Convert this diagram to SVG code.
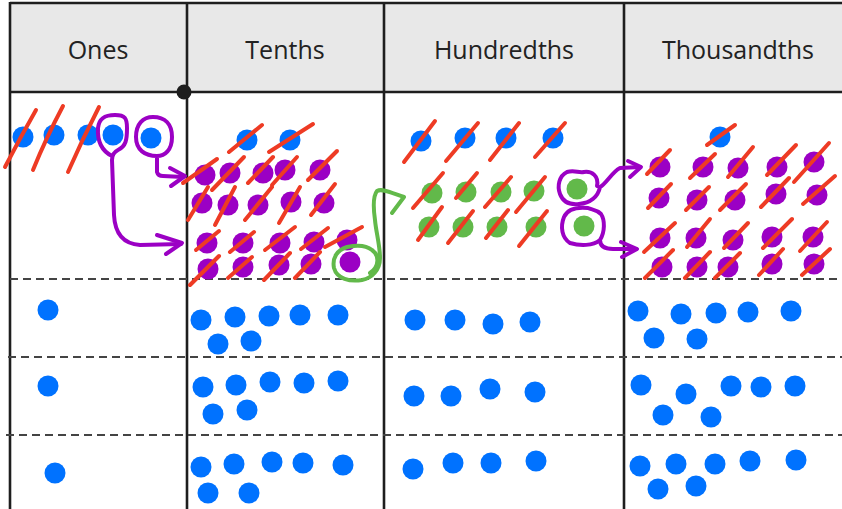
<svg xmlns="http://www.w3.org/2000/svg" width="842" height="509" viewBox="0 0 842 509">
<style>
.hd{fill:#E8E8E8}
.gl{stroke:#1E1E1E;stroke-width:2.6;fill:none}
.dl{stroke:#444;stroke-width:2;stroke-dasharray:8 5;fill:none}
.t{font-family:"Open Sans","Noto Sans",sans-serif;font-size:25px;fill:#222;text-anchor:middle}
.b{fill:#0072FF}
.p{fill:#9B00C4}
.g{fill:#62B94A}
.x{stroke:#EE3B24;stroke-width:4;stroke-linecap:round;fill:none}
.pc{stroke:#9B00C4;stroke-width:4;stroke-linecap:round;stroke-linejoin:round;fill:none}
.gc{stroke:#62B94A;stroke-width:4;stroke-linecap:round;stroke-linejoin:round;fill:none}
</style>
<rect width="842" height="509" fill="#fff"/>
<g id="table">
<rect class="hd" x="10" y="3" width="832" height="89"/>
<line class="gl" x1="10" y1="3" x2="842" y2="3"/>
<line class="gl" x1="10" y1="92" x2="842" y2="92"/>
<line class="gl" x1="10" y1="2" x2="10" y2="509"/>
<line class="gl" x1="187" y1="2" x2="187" y2="509"/>
<line class="gl" x1="384" y1="2" x2="384" y2="509"/>
<line class="gl" x1="624" y1="2" x2="624" y2="509"/>
<line class="dl" x1="10" y1="279" x2="842" y2="279"/>
<line class="dl" x1="8" y1="357" x2="842" y2="357"/>
<line class="dl" x1="6" y1="435" x2="842" y2="435"/>
<circle cx="184" cy="92" r="7.5" fill="#1E1E1E"/>
<text class="t" x="98" y="59">Ones</text>
<text class="t" x="285" y="59">Tenths</text>
<text class="t" x="504" y="59">Hundredths</text>
<text class="t" x="738" y="59">Thousandths</text>
</g>
<g id="ones-top">
<circle class="b" cx="23" cy="137" r="10.5"/>
<circle class="b" cx="54" cy="135" r="10.5"/>
<circle class="b" cx="88" cy="135" r="10.5"/>
<circle class="b" cx="113" cy="135" r="10.5"/>
<circle class="b" cx="151" cy="138" r="10.5"/>
<path class="x" d="M5,167 Q20,138 36,110"/>
<path class="x" d="M33,170 Q46,138 63,106"/>
<path class="x" d="M68,172 Q82,140 99,107"/>
</g>
<g id="tenths-top">
<circle class="b" cx="247" cy="140" r="10.5"/>
<circle class="b" cx="290" cy="140" r="10.5"/>
<line class="x" x1="229" y1="152" x2="262" y2="125"/>
<line class="x" x1="269" y1="152" x2="313" y2="124"/>
<circle class="p" cx="205" cy="175" r="10.5"/>
<circle class="p" cx="230" cy="173" r="10.5"/>
<circle class="p" cx="263" cy="173" r="10.5"/>
<circle class="p" cx="285" cy="170" r="10.5"/>
<circle class="p" cx="320" cy="170" r="10.5"/>
<circle class="p" cx="202" cy="203" r="10.5"/>
<circle class="p" cx="228" cy="205" r="10.5"/>
<circle class="p" cx="258" cy="205" r="10.5"/>
<circle class="p" cx="291" cy="202" r="10.5"/>
<circle class="p" cx="324" cy="203" r="10.5"/>
<circle class="p" cx="207" cy="243" r="10.5"/>
<circle class="p" cx="243" cy="243" r="10.5"/>
<circle class="p" cx="280" cy="243" r="10.5"/>
<circle class="p" cx="314" cy="242" r="10.5"/>
<circle class="p" cx="347" cy="240" r="10.5"/>
<circle class="p" cx="208" cy="269" r="10.5"/>
<circle class="p" cx="243" cy="267" r="10.5"/>
<circle class="p" cx="279" cy="265" r="10.5"/>
<circle class="p" cx="311" cy="264" r="10.5"/>
<circle class="p" cx="350" cy="262" r="10.5"/>
<line class="x" x1="183" y1="183" x2="217" y2="159"/>
<line class="x" x1="212" y1="190" x2="244" y2="157"/>
<line class="x" x1="248" y1="183" x2="273" y2="157"/>
<line class="x" x1="272" y1="185" x2="297" y2="157"/>
<line class="x" x1="308" y1="180" x2="337" y2="151"/>
<line class="x" x1="188" y1="220" x2="208" y2="187"/>
<line class="x" x1="215" y1="225" x2="235" y2="187"/>
<line class="x" x1="245" y1="220" x2="272" y2="187"/>
<line class="x" x1="279" y1="223" x2="300" y2="187"/>
<line class="x" x1="311" y1="215" x2="335" y2="184"/>
<line class="x" x1="196" y1="250" x2="219" y2="231"/>
<line class="x" x1="230" y1="252" x2="254" y2="232"/>
<line class="x" x1="265" y1="250" x2="295" y2="227"/>
<line class="x" x1="301" y1="249" x2="328" y2="228"/>
<line class="x" x1="325" y1="247" x2="362" y2="227"/>
<line class="x" x1="190" y1="285" x2="219" y2="256"/>
<line class="x" x1="228" y1="278" x2="252" y2="257"/>
<line class="x" x1="264" y1="280" x2="290" y2="253"/>
<line class="x" x1="295" y1="278" x2="320" y2="252"/>
</g>
<g id="hundredths-top">
<circle class="b" cx="421" cy="141" r="10.5"/>
<circle class="b" cx="465" cy="138" r="10.5"/>
<circle class="b" cx="506" cy="138" r="10.5"/>
<circle class="b" cx="553" cy="138" r="10.5"/>
<line class="x" x1="404" y1="162" x2="435" y2="121"/>
<line class="x" x1="446" y1="161" x2="478" y2="123"/>
<line class="x" x1="490" y1="160" x2="519" y2="123"/>
<line class="x" x1="535" y1="157" x2="565" y2="123"/>
<circle class="g" cx="432" cy="193" r="10.5"/>
<circle class="g" cx="466" cy="192" r="10.5"/>
<circle class="g" cx="501" cy="192" r="10.5"/>
<circle class="g" cx="534" cy="191" r="10.5"/>
<circle class="g" cx="577" cy="189" r="10.5"/>
<circle class="g" cx="429" cy="227" r="10.5"/>
<circle class="g" cx="463" cy="227" r="10.5"/>
<circle class="g" cx="497" cy="227" r="10.5"/>
<circle class="g" cx="536" cy="227" r="10.5"/>
<circle class="g" cx="584" cy="226" r="10.5"/>
<line class="x" x1="413" y1="208" x2="443" y2="173"/>
<line class="x" x1="456" y1="198" x2="477" y2="173"/>
<line class="x" x1="485" y1="207" x2="511" y2="177"/>
<line class="x" x1="516" y1="212" x2="545" y2="177"/>
<line class="x" x1="418" y1="240" x2="442" y2="207"/>
<line class="x" x1="448" y1="243" x2="473" y2="211"/>
<line class="x" x1="486" y1="238" x2="508" y2="210"/>
<line class="x" x1="519" y1="246" x2="547" y2="211"/>
</g>
<g id="thousandths-top">
<circle class="b" cx="720" cy="137" r="10.5"/>
<line class="x" x1="707" y1="145" x2="735" y2="125"/>
<circle class="p" cx="660" cy="167" r="10.5"/>
<circle class="p" cx="703" cy="167" r="10.5"/>
<circle class="p" cx="738" cy="168" r="10.5"/>
<circle class="p" cx="777" cy="167" r="10.5"/>
<circle class="p" cx="814" cy="162" r="10.5"/>
<circle class="p" cx="659" cy="198" r="10.5"/>
<circle class="p" cx="697" cy="200" r="10.5"/>
<circle class="p" cx="735" cy="200" r="10.5"/>
<circle class="p" cx="776" cy="194" r="10.5"/>
<circle class="p" cx="817" cy="195" r="10.5"/>
<circle class="p" cx="660" cy="238" r="10.5"/>
<circle class="p" cx="696" cy="238" r="10.5"/>
<circle class="p" cx="733" cy="240" r="10.5"/>
<circle class="p" cx="772" cy="237" r="10.5"/>
<circle class="p" cx="813" cy="237" r="10.5"/>
<circle class="p" cx="662" cy="267" r="10.5"/>
<circle class="p" cx="697" cy="267" r="10.5"/>
<circle class="p" cx="728" cy="267" r="10.5"/>
<circle class="p" cx="772" cy="264" r="10.5"/>
<circle class="p" cx="814" cy="264" r="10.5"/>
<line class="x" x1="647" y1="174" x2="670" y2="150"/>
<line class="x" x1="690" y1="178" x2="715" y2="154"/>
<line class="x" x1="728" y1="177" x2="753" y2="147"/>
<line class="x" x1="767" y1="175" x2="796" y2="145"/>
<line class="x" x1="794" y1="182" x2="829" y2="143"/>
<line class="x" x1="648" y1="208" x2="671" y2="184"/>
<line class="x" x1="686" y1="210" x2="709" y2="187"/>
<line class="x" x1="720" y1="210" x2="746" y2="184"/>
<line class="x" x1="761" y1="207" x2="789" y2="178"/>
<line class="x" x1="803" y1="204" x2="835" y2="176"/>
<line class="x" x1="644" y1="252" x2="675" y2="223"/>
<line class="x" x1="687" y1="247" x2="710" y2="219"/>
<line class="x" x1="724" y1="248" x2="748" y2="223"/>
<line class="x" x1="763" y1="248" x2="792" y2="219"/>
<line class="x" x1="800" y1="251" x2="827" y2="222"/>
<line class="x" x1="645" y1="278" x2="673" y2="250"/>
<line class="x" x1="685" y1="278" x2="710" y2="252"/>
<line class="x" x1="715" y1="278" x2="740" y2="253"/>
<line class="x" x1="759" y1="275" x2="783" y2="249"/>
<line class="x" x1="802" y1="275" x2="830" y2="249"/>
</g>
<g id="row2">
<circle class="b" cx="48" cy="310" r="10.5"/>
<circle class="b" cx="201" cy="320" r="10.5"/>
<circle class="b" cx="235" cy="317" r="10.5"/>
<circle class="b" cx="269" cy="316" r="10.5"/>
<circle class="b" cx="300" cy="315" r="10.5"/>
<circle class="b" cx="338" cy="315" r="10.5"/>
<circle class="b" cx="218" cy="344" r="10.5"/>
<circle class="b" cx="251" cy="341" r="10.5"/>
<circle class="b" cx="415" cy="320" r="10.5"/>
<circle class="b" cx="455" cy="320" r="10.5"/>
<circle class="b" cx="493" cy="324" r="10.5"/>
<circle class="b" cx="530" cy="322" r="10.5"/>
<circle class="b" cx="638" cy="311" r="10.5"/>
<circle class="b" cx="681" cy="314" r="10.5"/>
<circle class="b" cx="716" cy="313" r="10.5"/>
<circle class="b" cx="748" cy="312" r="10.5"/>
<circle class="b" cx="791" cy="311" r="10.5"/>
<circle class="b" cx="654" cy="338" r="10.5"/>
<circle class="b" cx="697" cy="339" r="10.5"/>
</g>
<g id="row3">
<circle class="b" cx="48" cy="386" r="10.5"/>
<circle class="b" cx="203" cy="387" r="10.5"/>
<circle class="b" cx="236" cy="385" r="10.5"/>
<circle class="b" cx="270" cy="382" r="10.5"/>
<circle class="b" cx="304" cy="383" r="10.5"/>
<circle class="b" cx="338" cy="381" r="10.5"/>
<circle class="b" cx="213" cy="414" r="10.5"/>
<circle class="b" cx="247" cy="410" r="10.5"/>
<circle class="b" cx="414" cy="396" r="10.5"/>
<circle class="b" cx="451" cy="396" r="10.5"/>
<circle class="b" cx="490" cy="389" r="10.5"/>
<circle class="b" cx="535" cy="392" r="10.5"/>
<circle class="b" cx="641" cy="385" r="10.5"/>
<circle class="b" cx="686" cy="394" r="10.5"/>
<circle class="b" cx="731" cy="386" r="10.5"/>
<circle class="b" cx="761" cy="387" r="10.5"/>
<circle class="b" cx="795" cy="386" r="10.5"/>
<circle class="b" cx="663" cy="415" r="10.5"/>
<circle class="b" cx="711" cy="417" r="10.5"/>
</g>
<g id="row4">
<circle class="b" cx="55" cy="473" r="10.5"/>
<circle class="b" cx="201" cy="467" r="10.5"/>
<circle class="b" cx="234" cy="464" r="10.5"/>
<circle class="b" cx="272" cy="462" r="10.5"/>
<circle class="b" cx="303" cy="463" r="10.5"/>
<circle class="b" cx="343" cy="465" r="10.5"/>
<circle class="b" cx="208" cy="493" r="10.5"/>
<circle class="b" cx="249" cy="493" r="10.5"/>
<circle class="b" cx="413" cy="469" r="10.5"/>
<circle class="b" cx="453" cy="463" r="10.5"/>
<circle class="b" cx="491" cy="463" r="10.5"/>
<circle class="b" cx="536" cy="461" r="10.5"/>
<circle class="b" cx="640" cy="466" r="10.5"/>
<circle class="b" cx="676" cy="464" r="10.5"/>
<circle class="b" cx="715" cy="464" r="10.5"/>
<circle class="b" cx="750" cy="461" r="10.5"/>
<circle class="b" cx="796" cy="460" r="10.5"/>
<circle class="b" cx="658" cy="489" r="10.5"/>
<circle class="b" cx="696" cy="486" r="10.5"/>
</g>
<g id="connectors">
<path class="pc" d="M112,156 C104,152 97,145 98,128 C99,118 105,115 115,115 C125,115 127,118 127,128 C127,140 126,146 118,150 C114,152 112,155 112,160 L114,215 C115,235 125,244 140,245 L181,244"/>
<path class="pc" d="M157,235 L182,243 L166,254"/>
<path class="pc" d="M157,156 C145,156 136,150 136,137 C136,124 143,117 153,117 C165,117 172,124 172,137 C172,150 165,156 157,156 L157,172 Q158,176 163,176 L183,177"/>
<path class="pc" d="M170,168 L185,176 L171,186"/>
<path class="gc" d="M370,273 C380,266 379,255 372,250 C366,245 356,245 347,247 C337,250 332,258 334,268 C337,279 350,282 362,280 C372,278 380,270 380,258 C380,245 376,232 375,220 C373,206 373,196 377,191 C382,188 392,193 404,197 L392,213"/>
<path class="pc" d="M597,186 C599,176 592,171 584,172 C578,173 575,170 567,172 C559,176 557,186 560,194 C563,202 570,205 579,204 C590,203 598,197 600,187 C606,184 612,172 620,168 L640,167"/>
<path class="pc" d="M628,161 L641,167 L630,177"/>
<path class="pc" d="M600,240 C605,232 605,220 601,214 C596,209 592,210 588,208 C578,207 568,208 564,217 C560,227 562,238 570,243 C580,246 593,246 600,240 C600,245 603,249 613,249 L636,249"/>
<path class="pc" d="M621,242 L637,249 L622,257"/>
</g>
</svg>
